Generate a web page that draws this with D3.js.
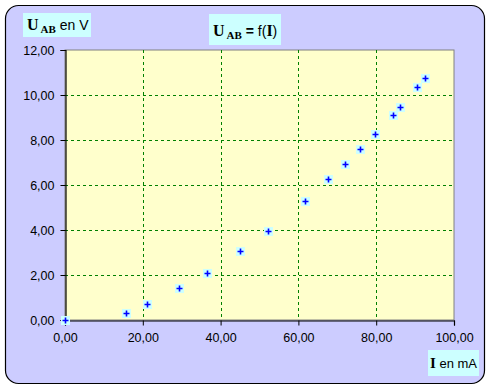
<!DOCTYPE html>
<html>
<head>
<meta charset="utf-8">
<script src="https://cdn.jsdelivr.net/npm/d3@7"></script>
<style>
  body { margin: 0; background: #fff; }
  text { font-family: "Liberation Sans", Arial, sans-serif; }
</style>
</head>
<body>
<div id="chart"></div>
<script>
// courant I (mA) et tension U_AB (V)
var courant = [0, 15.6, 21.1, 29.4, 36.6, 45.0, 52.2, 61.7, 67.6, 72.0, 75.8, 79.7, 84.2, 86.1, 90.4, 92.5]
var tension = [0, 0.31, 0.71, 1.42, 2.08, 3.06, 3.94, 5.31, 6.26, 6.95, 7.62, 8.28, 9.12, 9.48, 10.36, 10.76]
var xTicks = [0, 20, 40, 60, 80, 100]
var yTicks = [0, 2, 4, 6, 8, 10, 12]

var W = 490, H = 390
var plot = { left: 65, top: 50, right: 454, bottom: 320 }

var fmt = function (d) { return d3.format(".2f")(d).replace(".", ",") }

var svg = d3.select("#chart")
  .append("svg")
  .attr("width", W)
  .attr("height", H)

// fond du graphique
svg.append("rect")
  .attr("x", 5.5).attr("y", 5.5)
  .attr("width", 479).attr("height", 378)
  .attr("rx", 13).attr("ry", 13)
  .attr("fill", "#ccccff")
  .attr("stroke", "#000")
  .attr("stroke-width", 1.2)

var x = d3.scaleLinear()
  .domain([0, 100])
  .range([plot.left, plot.right])

var y = d3.scaleLinear()
  .domain([0, 12])
  .range([plot.bottom, plot.top])

// zone de traçage
svg.append("rect")
  .attr("x", plot.left).attr("y", plot.top)
  .attr("width", plot.right - plot.left)
  .attr("height", plot.bottom - plot.top)
  .attr("fill", "#ffffcc")
  .attr("stroke", "#808080")
  .attr("stroke-width", 1)

// quadrillage
svg.append("g")
  .selectAll("line")
  .data(xTicks.filter(function (d) { return d > 0 && d < 100 }))
  .enter()
  .append("line")
  .attr("x1", function (d) { return Math.round(x(d)) + 0.5 })
  .attr("x2", function (d) { return Math.round(x(d)) + 0.5 })
  .attr("y1", plot.top)
  .attr("y2", plot.bottom)
  .attr("stroke", "#008000")
  .attr("stroke-dasharray", "3,3")

svg.append("g")
  .selectAll("line")
  .data(yTicks.filter(function (d) { return d > 0 && d < 12 }))
  .enter()
  .append("line")
  .attr("x1", plot.left)
  .attr("x2", plot.right)
  .attr("y1", function (d) { return Math.round(y(d)) + 0.5 })
  .attr("y2", function (d) { return Math.round(y(d)) + 0.5 })
  .attr("stroke", "#008000")
  .attr("stroke-dasharray", "3,3")

// axes
var xAxis = svg.append("g")
  .attr("transform", "translate(0," + (plot.bottom + 0.5) + ")")
  .call(d3.axisBottom(x).tickValues(xTicks).tickFormat(fmt).tickSize(5).tickPadding(8))

var yAxis = svg.append("g")
  .attr("transform", "translate(" + (plot.left + 0.5) + ",0)")
  .call(d3.axisLeft(y).tickValues(yTicks).tickFormat(fmt).tickSize(5).tickPadding(6))

;[xAxis, yAxis].forEach(function (a) {
  a.select(".domain").attr("stroke", "#000").attr("stroke-width", 1.2)
  a.selectAll(".tick line").attr("stroke", "#000")
  a.selectAll(".tick text")
    .attr("fill", "#000")
    .style("font-size", "12.5px")
    .style("font-family", "'Liberation Sans', Arial, sans-serif")
})

// points de mesure
var pts = svg.append("g")
  .selectAll("g")
  .data(courant)
  .enter()
  .append("g")
  .attr("transform", function (d, i) {
    return "translate(" + Math.round(x(d)) + "," + Math.round(y(tension[i])) + ")"
  })

pts.append("rect")
  .attr("x", -4).attr("y", -4)
  .attr("width", 9).attr("height", 9)
  .attr("fill", "#ccffff")

pts.append("path")
  .attr("d", "M-2.5,0.5H3.5M0.5,-2.5V3.5")
  .attr("stroke", "#0000ff")
  .attr("stroke-width", 1.6)

// titres
function titre(bx, by, bw, bh) {
  svg.append("rect")
    .attr("x", bx).attr("y", by)
    .attr("width", bw).attr("height", bh)
    .attr("fill", "#ccffff")
  return svg.append("text")
}

var t1 = titre(23, 13, 68, 24)
  .attr("x", 27).attr("y", 30)
t1.append("tspan").text("U")
  .style("font-family", "'Liberation Serif', 'Times New Roman', serif")
  .style("font-weight", "bold").style("font-size", "16px")
t1.append("tspan").text("AB").attr("dx", 2).attr("dy", 3)
  .style("font-family", "'Liberation Serif', 'Times New Roman', serif")
  .style("font-weight", "bold").style("font-size", "11px")
t1.append("tspan").text(" en V").attr("dy", -3)
  .style("font-size", "14px")

var t2 = titre(209, 14, 72, 31)
  .attr("x", 213).attr("y", 36)
t2.append("tspan").text("U")
  .style("font-family", "'Liberation Serif', 'Times New Roman', serif")
  .style("font-weight", "bold").style("font-size", "16px")
t2.append("tspan").text("AB").attr("dx", 2).attr("dy", 3)
  .style("font-family", "'Liberation Serif', 'Times New Roman', serif")
  .style("font-weight", "bold").style("font-size", "11px")
t2.append("tspan").text(" = ").attr("dy", -3)
  .style("font-weight", "bold").style("font-size", "14px")
t2.append("tspan").text("f(")
  .style("font-size", "14px")
t2.append("tspan").text("I")
  .style("font-family", "'Liberation Serif', 'Times New Roman', serif")
  .style("font-weight", "bold").style("font-size", "16px")
t2.append("tspan").text(")")
  .style("font-size", "14px")

var t3 = titre(428, 350, 51, 26)
  .attr("x", 430).attr("y", 368)
t3.append("tspan").text("I")
  .style("font-family", "'Liberation Serif', 'Times New Roman', serif")
  .style("font-weight", "bold").style("font-size", "15px")
t3.append("tspan").text(" en mA")
  .style("font-size", "13px")
</script>
</body>
</html>
